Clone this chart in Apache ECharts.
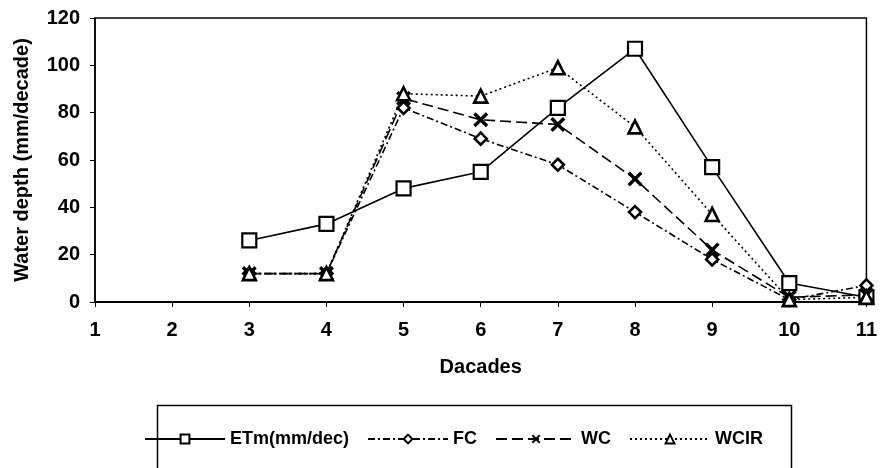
<!DOCTYPE html>
<html><head><meta charset="utf-8">
<script src="https://cdn.jsdelivr.net/npm/echarts@6/dist/echarts.min.js"></script>
<style>html,body{margin:0;padding:0;background:#fff}#c{width:880px;height:468px}</style>
</head><body><div id="c"></div>
<script>
const decades = [1,2,3,4,5,6,7,8,9,10,11];
const seriesNames = ['ETm(mm/dec)','FC','WC','WCIR'];
const etm  = [null,null,26,33,48,55,82,107,57,8,2];
const fc   = [null,null,12,12,82,69,58,38,18,1,7];
const wc   = [null,null,12,12,86,77,75,52,22,2,3];
const wcir = [null,null,12,12,88,87,99,74,37,1,2];
const yTicks = [0,20,40,60,80,100,120];

function pairs(arr){ return decades.map((d,i)=>[d,arr[i]]).filter(p=>p[1]!==null); }
const xPath = 'path://M0,1.6L1.6,0L5,3.4L8.4,0L10,1.6L6.6,5L10,8.4L8.4,10L5,6.6L1.6,10L0,8.4L3.4,5Z';

const font = 'Liberation Sans, Arial, sans-serif';
function mk(name, data, symbol, size, dash, filled, bw){
  return {
    name, type:'line', data:pairs(data), symbol, symbolSize:size,
    lineStyle:{color:'#000', width:1.6, type:dash},
    itemStyle:{color: filled ? '#000' : '#fff', borderColor:'#000', borderWidth: filled?0:bw},
    emphasis:{disabled:true}
  };
}
const chart = echarts.init(document.getElementById('c'));
chart.setOption({
  animation:false,
  backgroundColor:'#fff',
  grid:{left:95, right:12, top:18, bottom:166, show:true, borderColor:'#000', borderWidth:1.5},
  xAxis:{type:'value', min:1, max:11, interval:1,
    name:'Dacades', nameLocation:'middle', nameGap:55,
    nameTextStyle:{fontFamily:font, fontWeight:'bold', fontSize:20, color:'#000'},
    axisLine:{lineStyle:{color:'#000', width:2}},
    axisTick:{show:true, length:5, lineStyle:{color:'#000'}},
    axisLabel:{fontFamily:font, fontWeight:'bold', fontSize:20, color:'#000', margin:18},
    splitLine:{show:false}},
  yAxis:{type:'value', min:0, max:120, interval:20,
    name:'Water depth (mm/decade)', nameLocation:'middle', nameGap:63,
    nameTextStyle:{fontFamily:font, fontWeight:'bold', fontSize:20, color:'#000'},
    axisLine:{show:true, lineStyle:{color:'#000', width:1.5}},
    axisTick:{show:true, length:5, lineStyle:{color:'#000'}},
    axisLabel:{fontFamily:font, fontWeight:'bold', fontSize:20, color:'#000', margin:15,
      formatter:v=>yTicks.includes(v)?String(v):''},
    splitLine:{show:false}},
  legend:{left:139, top:425, itemWidth:80, itemHeight:11, itemGap:18,
    textStyle:{fontFamily:font, fontWeight:'bold', fontSize:18, color:'#000'},
    data:seriesNames},
  graphic:[{type:'rect', left:155, top:403, shape:{width:634, height:80},
    style:{fill:'none', stroke:'#000', lineWidth:1.5}, z:-1}],
  series:[
    mk(seriesNames[0], etm, 'rect', 14, 'solid', false, 2.2),
    mk(seriesNames[1], fc, 'diamond', 12, [7,3,2,3], false, 2.6),
    mk(seriesNames[2], wc, xPath, 15, [11,5], true, 0),
    mk(seriesNames[3], wcir, 'triangle', 13, [2,3], false, 2.6)
  ]
});
</script></body></html>
